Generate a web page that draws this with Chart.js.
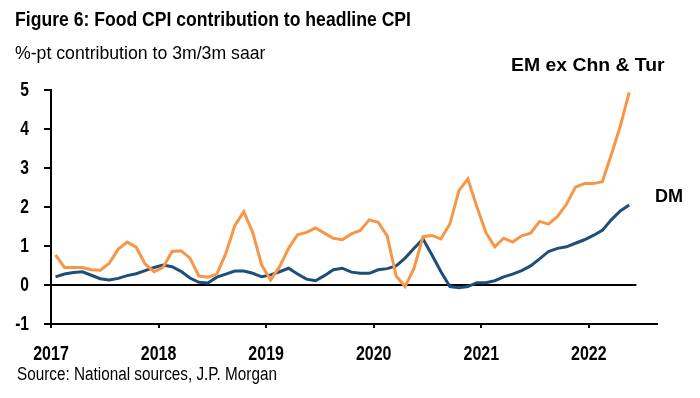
<!DOCTYPE html>
<html>
<head>
<meta charset="utf-8">
<script src="https://cdn.jsdelivr.net/npm/chart.js@4.4.1/dist/chart.umd.min.js"></script>
<style>
  html, body { margin: 0; padding: 0; background: #fff; }
  #wrap { width: 700px; height: 398px; position: relative; }
</style>
</head>
<body>
<div id="wrap"><canvas id="cpiChart" width="700" height="398"></canvas></div>
<script>
// monthly, Jan 2017 .. May 2022
const startYear = 2017;
const yearLabels = ['2017', '2018', '2019', '2020', '2021', '2022'];
const yTicks = [-1, 0, 1, 2, 3, 4, 5];

const emExChnTur = [
  0.77, 0.45, 0.45, 0.45, 0.39, 0.38, 0.56, 0.92, 1.10, 0.97, 0.54, 0.34,
  0.45, 0.86, 0.88, 0.69, 0.23, 0.20, 0.28, 0.81, 1.52, 1.88, 1.35, 0.51,
  0.13, 0.47, 0.94, 1.29, 1.35, 1.46, 1.33, 1.20, 1.16, 1.31, 1.40, 1.67,
  1.61, 1.26, 0.23, -0.04, 0.43, 1.24, 1.27, 1.18, 1.57, 2.42, 2.72, 2.01,
  1.35, 0.98, 1.20, 1.10, 1.26, 1.33, 1.63, 1.56, 1.76, 2.07, 2.51, 2.60,
  2.60, 2.65, 3.34, 4.07, 4.94
];
const dm = [
  0.21, 0.28, 0.32, 0.34, 0.25, 0.16, 0.13, 0.17, 0.24, 0.29, 0.37, 0.45,
  0.51, 0.47, 0.35, 0.18, 0.07, 0.05, 0.20, 0.28, 0.36, 0.36, 0.30, 0.21,
  0.26, 0.34, 0.43, 0.28, 0.15, 0.11, 0.24, 0.39, 0.43, 0.33, 0.30, 0.30,
  0.39, 0.42, 0.49, 0.69, 0.94, 1.18, 0.77, 0.34, -0.04, -0.07, -0.04, 0.06,
  0.06, 0.11, 0.21, 0.28, 0.37, 0.49, 0.67, 0.86, 0.94, 0.98, 1.07, 1.16,
  1.27, 1.40, 1.67, 1.90, 2.05
];

const ORANGE = '#F79646';
const BLUE = '#1F4E79';
const FONT = '"Liberation Sans", Arial, sans-serif';

// month i plotted at mid-month
function toPoints(arr) {
  return arr.map(function (v, i) { return { x: i + 0.5, y: v }; });
}

// the reference uses a narrow face; squeeze Liberation Sans horizontally
function narrowText(ctx, text, x, y, font, sx, align) {
  ctx.save();
  ctx.font = font;
  ctx.textBaseline = 'middle';
  ctx.textAlign = align || 'left';
  ctx.translate(x, y);
  ctx.scale(sx, 1);
  ctx.fillText(text, 0, 0);
  ctx.restore();
}

const textPlugin = {
  id: 'texts',
  beforeDatasetsDraw(chart) {
    const ctx = chart.ctx;
    const x = chart.scales.x, y = chart.scales.y;
    const y0 = y.getPixelForValue(0);
    ctx.save();
    ctx.strokeStyle = '#000';
    ctx.lineWidth = 2;
    ctx.beginPath();
    ctx.moveTo(x.left, y0);
    ctx.lineTo(x.getPixelForValue(65.3), y0);
    ctx.stroke();
    ctx.restore();
  },
  afterDraw(chart) {
    const ctx = chart.ctx;
    const xs = chart.scales.x, ys = chart.scales.y;
    ctx.save();
    ctx.fillStyle = '#000';
    // tick labels
    xs.ticks.forEach(function (t) {
      const lbl = String(startYear + Math.round(t.value / 12));
      narrowText(ctx, lbl, xs.getPixelForValue(t.value), 354, 'bold 20px ' + FONT, 0.8, 'center');
    });
    ys.ticks.forEach(function (t) {
      narrowText(ctx, String(t.value), 29, ys.getPixelForValue(t.value), 'bold 20px ' + FONT, 0.78, 'right');
    });
    narrowText(ctx, 'Figure 6: Food CPI contribution to headline CPI', 15, 20, 'bold 20px ' + FONT, 0.88);
    narrowText(ctx, '%-pt contribution to 3m/3m saar', 15, 54, '19px ' + FONT, 0.93);
    narrowText(ctx, 'Source: National sources, J.P. Morgan', 17, 375, '18px ' + FONT, 0.85);
    narrowText(ctx, 'EM ex Chn & Tur', 511, 66, 'bold 19px ' + FONT, 1.02);
    narrowText(ctx, 'DM', 655, 197, 'bold 19px ' + FONT, 0.95);
    ctx.restore();
  }
};

const ctx = document.getElementById('cpiChart').getContext('2d');
const chart = new Chart(ctx, {
  type: 'line',
  data: {
    datasets: [
      {
        label: 'EM ex Chn & Tur',
        data: toPoints(emExChnTur),
        borderColor: ORANGE,
        borderWidth: 3,
        pointRadius: 0,
        tension: 0,
        fill: false
      },
      {
        label: 'DM',
        data: toPoints(dm),
        borderColor: BLUE,
        borderWidth: 3,
        pointRadius: 0,
        tension: 0,
        fill: false
      }
    ]
  },
  options: {
    responsive: false,
    animation: false,
    layout: { padding: { left: 0, right: 43, top: 90, bottom: 34 } },
    plugins: {
      legend: { display: false },
      tooltip: { enabled: false }
    },
    scales: {
      x: {
        type: 'linear',
        min: 0,
        max: 67.6,
        afterBuildTicks(scale) {
          scale.ticks = yearLabels.map(function (l, k) { return { value: k * 12 }; });
        },
        afterFit(scale) { scale.height = 40; },
        ticks: { display: false },
        grid: { drawOnChartArea: false, tickLength: 4, color: '#000', lineWidth: 2 },
        border: { color: '#000', width: 2 }
      },
      y: {
        min: -1,
        max: 5,
        afterBuildTicks(scale) {
          scale.ticks = yTicks.map(function (v) { return { value: v }; });
        },
        afterFit(scale) { scale.width = 51; },
        ticks: { display: false },
        grid: { drawOnChartArea: false, tickLength: 7, color: '#000', lineWidth: 2 },
        border: { color: '#000', width: 2 }
      }
    }
  },
  plugins: [textPlugin]
});
</script>
</body>
</html>
